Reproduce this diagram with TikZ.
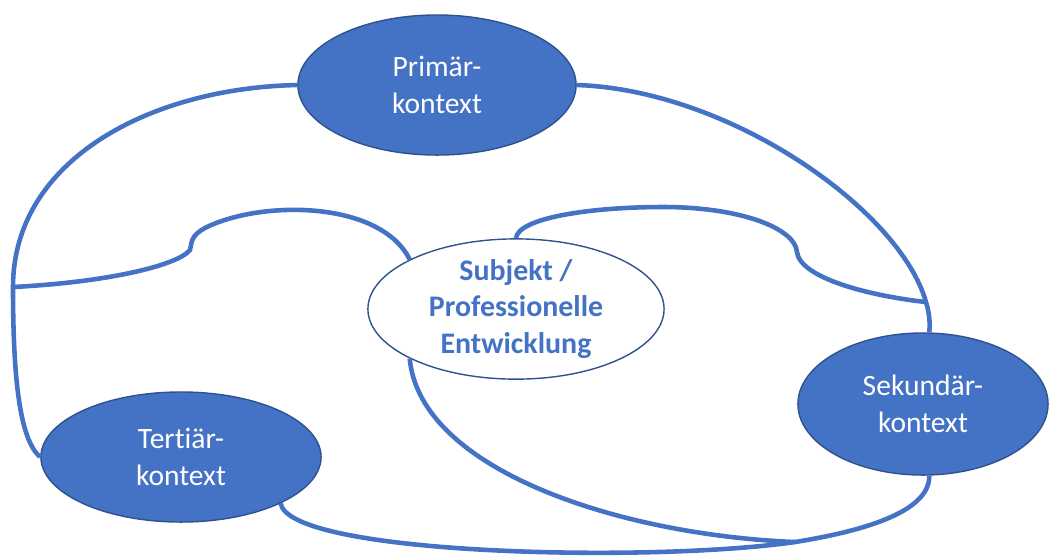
\documentclass[tikz,border=0pt]{standalone}
\usepackage{fontspec}
\setmainfont[Ligatures=NoCommon]{Carlito}
\usetikzlibrary{shapes.geometric}
\definecolor{ctxblue}{HTML}{4472C4}
\definecolor{ctxdark}{HTML}{2F528F}

\begin{document}
\begin{tikzpicture}[x=0.01cm,y=-0.01cm,
    kontext/.style={ellipse,fill=ctxblue,draw=ctxdark,line width=0.4pt,inner sep=0pt,
      text=white,align=center,font=\fontsize{8.4}{10.4}\selectfont},
    band/.style={draw=ctxblue,line width=1.3pt}]
            \useasboundingbox (0,0) rectangle (1050,556);
            \node[kontext,minimum width=2.78cm,minimum height=1.40cm] (prim) at (437,85) {Primär-\\kontext};
            \node[kontext,minimum width=2.50cm,minimum height=1.42cm] (sek) at (923,404) {Sekundär-\\kontext};
            \node[kontext,minimum width=2.80cm,minimum height=1.30cm] (tert) at (181,457) {Tertiär-\\kontext};
            \node[kontext,fill=white,text=ctxblue,font=\fontsize{8.5}{10.4}\selectfont\bfseries,
              minimum width=2.96cm,minimum height=1.38cm] (subj) at (516,309) {Subjekt /\\Professionelle\\Entwicklung};
            \coordinate (L) at (13,287);
            \coordinate (R) at (926,302);
            \coordinate (X) at (795,542);
            \draw[band] (prim.west) .. controls (150,88) and (13,160) .. (L)
              .. controls (13,380) and (20,440) .. (tert.west);
            \draw[band] (prim.east) .. controls (730,90) and (900,210) .. (R)
              .. controls (930,315) and (930,325) .. (sek.85);
            \draw[band] (L) .. controls (110,282) and (178,265) .. (190,250)
              .. controls (192,243) and (190,236) .. (205,228)
              .. controls (260,200) and (380,200) .. (subj.155);
            \draw[band] (subj.north) .. controls (518,218) and (590,207) .. (663,207)
              .. controls (740,207) and (795,228) .. (797,252)
              .. controls (800,278) and (870,296) .. (R);
            \draw[band] (subj.205) .. controls (420,470) and (620,535) .. (X);
            \draw[band] (sek.-85) .. controls (930,510) and (870,530) .. (X)
              .. controls (650,563) and (290,555) .. (tert.-25);
        \end{tikzpicture}
\end{document}
